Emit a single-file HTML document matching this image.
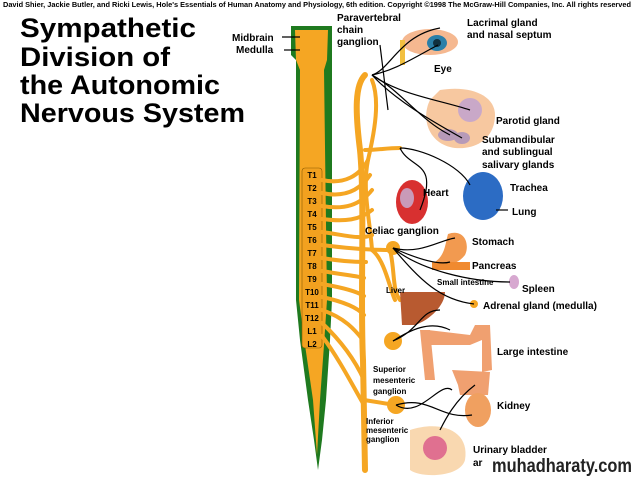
<!DOCTYPE html>
<html><head><meta charset="utf-8"><style>
html,body{margin:0;padding:0;background:#fff;}
svg{display:block;}
text{font-family:"Liberation Sans",Arial,sans-serif;font-weight:bold;fill:#000;}
</style></head><body>
<svg width="640" height="480" viewBox="0 0 640 480" xmlns="http://www.w3.org/2000/svg">
<text x="3" y="7" font-size="7" font-weight="normal" textLength="628" lengthAdjust="spacingAndGlyphs">David Shier, Jackie Butler, and Ricki Lewis, Hole's Essentials of Human Anatomy and Physiology, 6th edition. Copyright ©1998 The McGraw-Hill Companies, Inc. All rights reserved</text>
<g font-size="27">
<text x="20" y="37" textLength="176" lengthAdjust="spacingAndGlyphs">Sympathetic</text>
<text x="20" y="66" textLength="150" lengthAdjust="spacingAndGlyphs">Division of</text>
<text x="20" y="94" textLength="200" lengthAdjust="spacingAndGlyphs">the Autonomic</text>
<text x="20" y="122" textLength="225" lengthAdjust="spacingAndGlyphs">Nervous System</text>
</g>
<!-- spinal cord -->
<path d="M291,26 L332,26 L332,300 L330,340 L326,400 L322,440 L318,470 L314,440 L308,400 L300,340 L296,300 L296,60 L291,55 Z" fill="#1f7a1f"/>
<path d="M295,30 L328,30 L327,60 L324,70 L327,300 L324,345 L320,400 L317,455 L313,400 L305,345 L299,300 L300,70 L296,60 Z" fill="#f5a623"/>
<g fill="#f2a11f" stroke="#8a5a00" stroke-width="0.6">
<rect x="302" y="168" width="20" height="180" rx="3"/>
</g>
<g font-size="8" text-anchor="middle">
<text x="312" y="178">T1</text><text x="312" y="191">T2</text><text x="312" y="204">T3</text><text x="312" y="217">T4</text><text x="312" y="230">T5</text><text x="312" y="243">T6</text><text x="312" y="256">T7</text><text x="312" y="269">T8</text><text x="312" y="282">T9</text><text x="312" y="295">T10</text><text x="312" y="308">T11</text><text x="312" y="321">T12</text><text x="312" y="334">L1</text><text x="312" y="347">L2</text>
</g>
<!-- chain and nerves -->
<g fill="none" stroke="#f5a623" stroke-linecap="round">
<path d="M365,75 C355,85 355,110 360,150 C365,200 360,300 363,360 L365,470" stroke-width="6"/>
<path d="M372,80 C380,100 375,130 368,160 C362,190 370,220 372,250" stroke-width="4"/>
<path d="M322,180 C345,185 360,175 368,160" stroke-width="4"/>
<path d="M322,193 C345,198 360,190 370,175" stroke-width="4"/>
<path d="M322,206 C345,210 360,205 372,190" stroke-width="4"/>
<path d="M322,219 C345,222 360,220 372,210" stroke-width="4"/>
<path d="M322,232 C345,235 360,240 372,235" stroke-width="4"/>
<path d="M322,245 C345,248 365,250 390,250" stroke-width="4"/>
<path d="M322,258 C345,262 360,262 366,262" stroke-width="4"/>
<path d="M322,271 C345,275 358,276 364,278" stroke-width="4"/>
<path d="M322,284 C345,288 358,292 364,296" stroke-width="4"/>
<path d="M322,297 C345,302 358,308 364,315" stroke-width="4"/>
<path d="M322,310 C345,318 355,330 363,340" stroke-width="4"/>
<path d="M322,323 C340,340 355,360 364,380" stroke-width="4"/>
<path d="M322,336 C340,360 355,390 364,405" stroke-width="4"/>
<path d="M365,150 C380,150 385,148 400,148" stroke-width="4"/>
<path d="M372,250 C385,260 390,290 395,300" stroke-width="4"/>
<path d="M390,250 C395,270 392,290 400,300" stroke-width="4"/>
<path d="M364,400 L395,405" stroke-width="4"/>
</g>
<circle cx="393" cy="248" r="7" fill="#f5a623"/>
<circle cx="393" cy="341" r="9" fill="#f5a623"/>
<circle cx="396" cy="405" r="9" fill="#f5a623"/>
<!-- organs -->
<ellipse cx="430" cy="42" rx="28" ry="13" fill="#f5b890"/>
<ellipse cx="437" cy="43" rx="10" ry="8" fill="#2a7fa8"/>
<circle cx="437" cy="43" r="4" fill="#10303f"/>
<rect x="400" y="40" width="5" height="25" fill="#f2c040"/>
<path d="M440,90 C470,85 495,95 495,115 C495,135 480,150 455,148 C430,145 420,120 430,100 Z" fill="#f7c8a0"/>
<ellipse cx="470" cy="110" rx="12" ry="12" fill="#c9a8c8"/>
<ellipse cx="448" cy="135" rx="10" ry="6" fill="#b79ab8"/>
<ellipse cx="462" cy="138" rx="8" ry="6" fill="#b79ab8"/>
<ellipse cx="483" cy="196" rx="20" ry="24" fill="#2c6cc4"/>
<ellipse cx="412" cy="202" rx="16" ry="22" fill="#d83030"/>
<ellipse cx="407" cy="198" rx="7" ry="10" fill="#c99ab8"/>
<path d="M448,234 C465,228 470,245 465,255 C455,268 440,265 435,262 C445,255 445,245 448,234 Z" fill="#f29a50"/>
<path d="M432,262 L470,262 L470,270 L432,270 Z" fill="#f08a30"/>
<path d="M400,292 L445,292 C445,305 430,320 415,325 L402,325 Z" fill="#b85a30"/>
<ellipse cx="514" cy="282" rx="5" ry="7" fill="#d7a8d0"/>
<circle cx="474" cy="304" r="4" fill="#f5a623"/>
<path d="M420,330 L430,330 L435,380 L425,380 Z M428,330 L470,335 L475,325 L490,325 L492,370 L482,372 L482,340 L470,345 L430,345 Z M452,370 L490,372 L488,395 L460,395 L458,385 Z" fill="#f0a070"/>
<ellipse cx="478" cy="410" rx="13" ry="17" fill="#f0a060"/>
<path d="M410,430 C440,420 470,430 465,460 C460,478 420,478 410,470 Z" fill="#f9d8b0"/>
<ellipse cx="435" cy="448" rx="12" ry="12" fill="#e07090"/>
<!-- black nerve lines -->
<g fill="none" stroke="#000" stroke-width="1.2">
<path d="M372,75 C390,70 400,35 440,28"/><path d="M372,75 C395,70 410,60 438,45"/>
<path d="M372,75 C400,90 420,120 450,135"/><path d="M372,75 C400,95 440,100 470,110"/>
<path d="M372,75 C395,100 430,120 462,138"/>
<path d="M400,148 C420,148 460,165 470,185"/><path d="M400,148 C410,170 440,160 420,210"/>
<path d="M393,248 C420,255 440,240 455,238"/><path d="M393,248 C420,260 440,265 450,262"/>
<path d="M393,248 C420,270 470,282 510,282"/><path d="M393,248 C420,280 440,300 474,304"/>
<path d="M393,341 C420,330 420,310 440,310"/><path d="M393,341 C410,330 430,320 450,330"/>
<path d="M396,405 C430,395 440,420 472,415"/><path d="M396,405 C420,420 440,380 452,390"/>
<path d="M440,430 C445,420 455,400 475,385"/>
<path d="M282,37 L300,37"/><path d="M284,50 L300,50"/>
<path d="M380,45 L388,110"/><path d="M496,210 L508,210"/>
</g>
<g font-size="10">
<text x="232" y="41">Midbrain</text><text x="236" y="53">Medulla</text>
<text x="337" y="21">Paravertebral</text><text x="337" y="33">chain</text><text x="337" y="45">ganglion</text>
<text x="467" y="26">Lacrimal gland</text><text x="467" y="38">and nasal septum</text>
<text x="434" y="72">Eye</text>
<text x="496" y="124">Parotid gland</text>
<text x="482" y="143">Submandibular</text><text x="482" y="155">and sublingual</text><text x="482" y="168">salivary glands</text>
<text x="510" y="191">Trachea</text><text x="512" y="215">Lung</text>
<text x="423" y="196">Heart</text>
<text x="365" y="234">Celiac ganglion</text>
<text x="472" y="245">Stomach</text><text x="472" y="269">Pancreas</text>
<text x="522" y="292">Spleen</text>
<text x="483" y="309">Adrenal gland (medulla)</text>
<text x="497" y="355">Large intestine</text>
<text x="497" y="409">Kidney</text>
<text x="473" y="453">Urinary bladder</text><text x="473" y="466">ar</text>
</g>
<g font-size="8">
<text x="386" y="293">Liver</text>
<text x="437" y="285">Small intestine</text>
<text x="373" y="372">Superior</text><text x="373" y="383">mesenteric</text><text x="373" y="394">ganglion</text>
<text x="366" y="424">Inferior</text><text x="366" y="433">mesenteric</text><text x="366" y="442">ganglion</text>
</g>
<text x="492" y="472" font-size="19" textLength="140" lengthAdjust="spacingAndGlyphs" style="fill:#222">muhadharaty.com</text>
</svg>
</body></html>
